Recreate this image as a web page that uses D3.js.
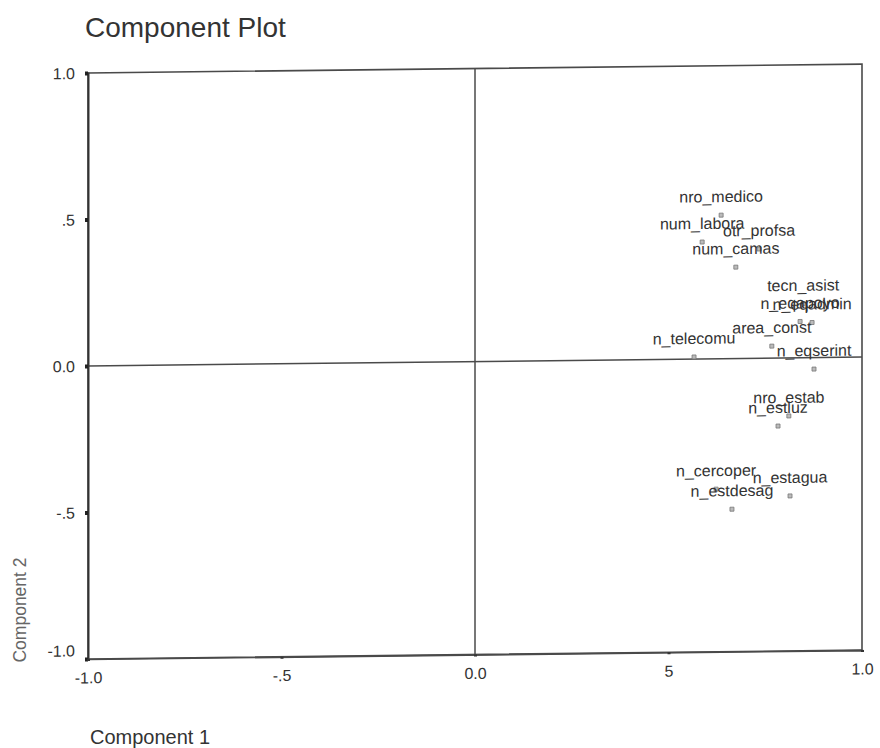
<!DOCTYPE html>
<html>
<head>
<meta charset="utf-8">
<script src="https://cdn.jsdelivr.net/npm/d3@7"></script>
<style>
  html, body { margin: 0; padding: 0; background: #fff; }
  svg { display: block; }
  text { font-family: "Liberation Sans", Arial, sans-serif; fill: #333; }
</style>
</head>
<body>
<svg id="chart" width="880" height="748"></svg>
<script>
// Component loadings (component 1, component 2) for each variable
const variables = [
  "nro_medico", "num_labora", "otr_profsa", "num_camas", "tecn_asist",
  "n_eqapoyo", "n_eqadmin", "area_const", "n_telecomu", "n_eqserint",
  "nro_estab", "n_estluz", "n_cercoper", "n_estagua", "n_estdesag"
];
const comp1 = [0.636, 0.587, 0.734, 0.674, 0.848, 0.840, 0.871, 0.767, 0.566, 0.876, 0.811, 0.783, 0.623, 0.814, 0.664];
const comp2 = [0.490, 0.399, 0.373, 0.312, 0.184, 0.124, 0.120, 0.041, 0.007, -0.039, -0.198, -0.232, -0.445, -0.471, -0.514];

const tickValues = [-1, -0.5, 0, 0.5, 1];
const yTickLabels = ["-1.0", "-.5", "0.0", ".5", "1.0"];
const xTickLabels = ["-1.0", "-.5", "0.0", "5", "1.0"];

const svg = d3.select("#chart");

const plotLeft = 88, plotRight = 862, plotTop = 73, plotBottom = 659;
const x = d3.scaleLinear().domain([-1, 1]).range([plotLeft, plotRight]);
const y = d3.scaleLinear().domain([-1, 1]).range([plotBottom, plotTop]);

// Title and axis titles
svg.append("text").attr("x", 85).attr("y", 37)
  .style("font-size", "28px").text("Component Plot");
svg.append("text").attr("x", 90).attr("y", 744)
  .style("font-size", "20px").text("Component 1");
svg.append("text")
  .attr("transform", "translate(26,610) rotate(-90)")
  .attr("text-anchor", "middle")
  .style("font-size", "17.5px").style("fill", "#666").text("Component 2");

// Plot area, slightly sheared as printed
const shear = -0.0115;
const g = svg.append("g")
  .attr("transform", `matrix(1,${shear},0,1,0,${-shear * plotLeft})`);

const lineColor = "#4a4a4a";

// Frame
g.append("rect")
  .attr("x", plotLeft).attr("y", plotTop)
  .attr("width", plotRight - plotLeft).attr("height", plotBottom - plotTop)
  .attr("fill", "none").attr("stroke", lineColor).attr("stroke-width", 1.6);

// Reference lines at zero
g.append("line")
  .attr("x1", x(0)).attr("x2", x(0)).attr("y1", plotTop).attr("y2", plotBottom)
  .attr("stroke", lineColor).attr("stroke-width", 1.5);
g.append("line")
  .attr("x1", plotLeft).attr("x2", plotRight).attr("y1", y(0)).attr("y2", y(0))
  .attr("stroke", lineColor).attr("stroke-width", 1.5);

// Y axis
const yAxis = d3.axisLeft(y)
  .tickValues(tickValues)
  .tickFormat((d, i) => yTickLabels[i])
  .tickSize(3).tickPadding(10);
const ya = g.append("g").attr("transform", `translate(${plotLeft},0)`).call(yAxis);
ya.select(".domain").attr("stroke", "#333").attr("stroke-width", 2);
ya.selectAll(".tick line").attr("stroke", "#222").attr("stroke-width", 4);
ya.selectAll(".tick text")
  .style("font-size", "16px").style("font-family", "Liberation Sans, Arial, sans-serif")
  .attr("fill", "#333")
  .attr("dy", d => d === -1 ? "-0.2em" : "0.34em");

// X axis
const xAxis = d3.axisBottom(x)
  .tickValues(tickValues)
  .tickFormat((d, i) => xTickLabels[i])
  .tickSize(2).tickPadding(11);
const xa = g.append("g").attr("transform", `translate(0,${plotBottom})`).call(xAxis);
xa.select(".domain").attr("stroke", lineColor).attr("stroke-width", 1.6);
xa.selectAll(".tick line").attr("stroke", "#333").attr("stroke-width", 3);
xa.selectAll(".tick text")
  .style("font-size", "16px").style("font-family", "Liberation Sans, Arial, sans-serif")
  .attr("fill", "#333");

// Variable points and labels
const pts = g.append("g");
variables.forEach((name, i) => {
  const px = x(comp1[i]), py = y(comp2[i]);
  pts.append("rect")
    .attr("x", px - 2).attr("y", py - 2).attr("width", 4).attr("height", 4)
    .attr("fill", "#bbb").attr("stroke", "#777").attr("stroke-width", 0.8);
  pts.append("text")
    .attr("x", px).attr("y", py - 13)
    .attr("text-anchor", "middle")
    .style("font-size", "16px")
    .text(name);
});
</script>
</body>
</html>
